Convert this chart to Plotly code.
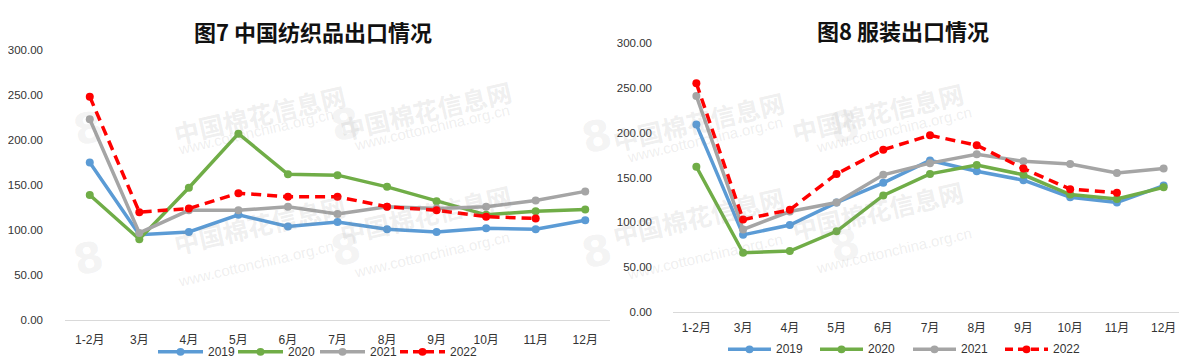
import plotly.graph_objects as go

months = ["1-2月", "3月", "4月", "5月", "6月", "7月", "8月", "9月", "10月", "11月", "12月"]
years = ["2019", "2020", "2021", "2022"]

tex_2019 = [175, 95, 98, 117, 104, 109, 101, 98, 102, 101, 111]
tex_2020 = [139, 90, 147, 207, 162, 161, 148, 132, 117, 121, 123]
tex_2021 = [223, 97, 122, 122, 126, 118, 126, 124, 126, 133, 143]
tex_2022 = [248, 120, 124, 141, 137, 137, 126, 122, 115, 113, None]

app_2019 = [209, 86, 97, 122, 144, 169, 157, 147, 128, 122, 141]
app_2020 = [162, 66, 68, 90, 130, 154, 164, 153, 131, 126, 139]
app_2021 = [241, 92, 112, 122, 153, 166, 176, 168, 165, 155, 160]
app_2022 = [255, 103, 114, 154, 181, 197, 186, 160, 137, 133, None]

y_ticks = [0, 50, 100, 150, 200, 250, 300]

colors = ["#5B9BD5", "#70AD47", "#A5A5A5", "#FF0000"]
W, H = 1187, 358
DASH = "10px,6px"

fig = go.Figure()

def add_series(data, xa, ya):
    for i, (yr, vals) in enumerate(zip(years, data)):
        dash = DASH if yr == "2022" else "solid"
        fig.add_trace(go.Scatter(
            x=months, y=vals, name=yr, mode="lines+markers",
            xaxis=xa, yaxis=ya, showlegend=False,
            line=dict(color=colors[i], width=3.5, dash=dash),
            marker=dict(color=colors[i], size=8),
            connectgaps=False,
        ))

add_series([tex_2019, tex_2020, tex_2021, tex_2022], "x", "y")
add_series([app_2019, app_2020, app_2021, app_2022], "x2", "y2")

def px_x(p):
    return p / W

def px_y(p):
    return 1 - p / H

tickfont = dict(family="Liberation Sans, Noto Sans CJK SC", size=11.5, color="#333333")
xfont = dict(family="Liberation Sans, Noto Sans CJK SC", size=12, color="#333333")

common_x = dict(type="category", showgrid=False, zeroline=False, showline=True,
                linecolor="#D9D9D9", linewidth=1, ticks="", tickfont=xfont,
                range=[-0.5, 10.5], fixedrange=True)
common_y = dict(range=[0, 300], tickvals=y_ticks, tickformat=".2f", showgrid=False,
                zeroline=False, showline=False, ticks="", tickfont=tickfont,
                fixedrange=True)

fig.update_layout(
    width=W, height=H,
    margin=dict(l=0, r=0, t=0, b=0),
    paper_bgcolor="white", plot_bgcolor="rgba(0,0,0,0)",
    xaxis=dict(domain=[px_x(57), px_x(602)], anchor="y", ticklabelstandoff=8, **common_x),
    yaxis=dict(domain=[px_y(317), px_y(37)], anchor="x", ticklabelstandoff=21, **common_y),
    xaxis2=dict(domain=[px_x(665), px_x(1179)], anchor="y2", ticklabelstandoff=5, **common_x),
    yaxis2=dict(domain=[px_y(308.3), px_y(30)], anchor="x2", ticklabelstandoff=20, **common_y),
    showlegend=False,
)

annotations = []
shapes = []

# watermarks
wm_pos = [(160, 62), (417, 58), (160, 258), (417, 248),
          (690, 70), (961, 60), (690, 250), (961, 244)]
for (cx, cy) in wm_pos:
    annotations.append(dict(x=px_x(cx), y=px_y(cy), xref="paper", yref="paper",
                            text="<b>中国棉花信息网</b>", showarrow=False, textangle=-13,
                            font=dict(family="Noto Sans CJK SC", size=25, color="rgba(140,140,140,0.15)")))
    annotations.append(dict(x=px_x(cx + 6), y=px_y(cy + 30), xref="paper", yref="paper",
                            text="www.cottonchina.org.cn", showarrow=False, textangle=-13,
                            font=dict(family="Liberation Sans", size=15, color="rgba(140,140,140,0.15)")))
    annotations.append(dict(x=px_x(cx - 102), y=px_y(cy + 26), xref="paper", yref="paper",
                            text="<b>8</b>", showarrow=False, textangle=-13,
                            font=dict(family="DejaVu Sans", size=42, color="rgba(140,140,140,0.11)")))

# titles
annotations.append(dict(x=px_x(305), y=px_y(18), xref="paper", yref="paper",
                        text="<b>图7 中国纺织品出口情况</b>", showarrow=False,
                        xanchor="center", yanchor="middle",
                        font=dict(family="Noto Sans CJK SC", size=22, color="#111111")))
annotations.append(dict(x=px_x(895), y=px_y(17), xref="paper", yref="paper",
                        text="<b>图8 服装出口情况</b>", showarrow=False,
                        xanchor="center", yanchor="middle",
                        font=dict(family="Noto Sans CJK SC", size=22, color="#111111")))

# custom legends (longer symbol lines like the reference)
def add_legend(starts, length, ly):
    for i, yr in enumerate(years):
        x0 = starts[i]
        x1 = x0 + length
        dash = "8px,5px" if yr == "2022" else "solid"
        shapes.append(dict(type="line", xref="paper", yref="paper",
                           x0=px_x(x0), x1=px_x(x1), y0=px_y(ly), y1=px_y(ly),
                           line=dict(color=colors[i], width=3.5, dash=dash)))
        cx = (x0 + x1) / 2
        shapes.append(dict(type="circle", xref="paper", yref="paper",
                           x0=px_x(cx - 4), x1=px_x(cx + 4), y0=px_y(ly + 4), y1=px_y(ly - 4),
                           fillcolor=colors[i], line=dict(color=colors[i], width=0)))
        annotations.append(dict(x=px_x(x1 + 3), y=px_y(ly), xref="paper", yref="paper",
                                text=yr, showarrow=False, xanchor="left", yanchor="middle",
                                font=dict(family="Liberation Sans", size=12, color="#333333")))

add_legend([150, 230, 312, 392], 45, 349.5)
add_legend([720, 812, 905, 997], 43, 347)

fig.update_layout(annotations=annotations, shapes=shapes)

fig.write_html("out.html")
